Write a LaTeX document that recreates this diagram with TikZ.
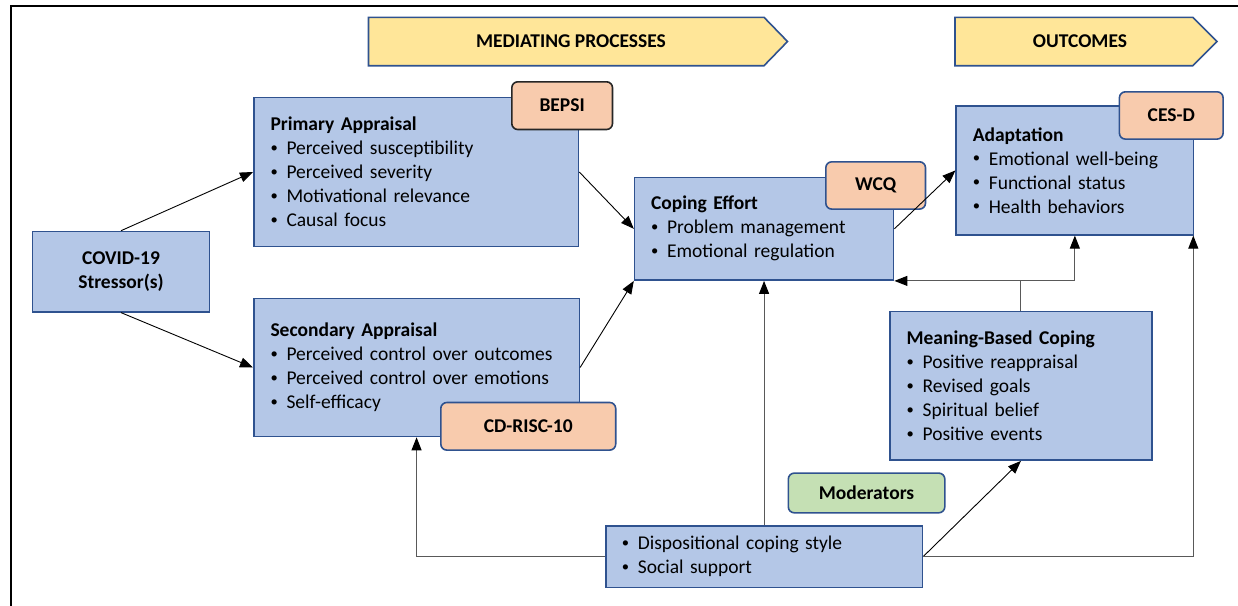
\documentclass[tikz,border=0pt]{standalone}
\usepackage{fontspec}
\setmainfont{Carlito}
\usetikzlibrary{arrows.meta}
\definecolor{boxfill}{HTML}{B4C7E7}
\definecolor{boxline}{HTML}{2F528F}
\definecolor{tagfill}{HTML}{F8CBAD}
\definecolor{modfill}{HTML}{C5E0B4}
\definecolor{banfill}{HTML}{FFE699}
\definecolor{elbowgray}{HTML}{595959}
\newcommand{\bul}{\makebox[16pt][l]{\raisebox{0.12em}{\scalebox{0.75}{\textbullet}}}}
\begin{document}
\begin{tikzpicture}[x=1pt,y=-1pt,
  every node/.style={font=\fontsize{19.5}{24}\selectfont},
  box/.style={draw=boxline, fill=boxfill, line width=1.6pt, inner sep=0pt, anchor=north west, align=left},
  tagbox/.style={draw=boxline, fill=tagfill, line width=1.6pt, rounded corners=6pt, inner sep=0pt,
    anchor=north west, font=\fontsize{19.5}{24}\selectfont\bfseries},
  modbox/.style={tagbox, fill=modfill},
  banner/.style={draw=boxline, fill=banfill, line width=1.6pt},
  conn/.style={line width=0.9pt, draw=black, -{Triangle[length=13pt,width=10pt,color=black]}},
  elbow/.style={line width=1.1pt, draw=elbowgray, -{Triangle[length=13pt,width=10pt,color=black]}}
]
\useasboundingbox (0,0) rectangle (1238,605);
\clip (0,0) rectangle (1238,605);
% outer frame
\draw[line width=2pt] (10.7,620) -- (10.7,5.7) -- (1250,5.7);

% banners
\draw[banner] (368.5,17.3) -- (764,17.3) -- (787.5,41.5) -- (764,65.7) -- (368.5,65.7) -- cycle;
\node[font=\fontsize{19.5}{24}\selectfont\bfseries] (mphead) at (571,41.5) {MEDIATING PROCESSES};
\draw[banner] (955,17.3) -- (1192.7,17.3) -- (1217,41.5) -- (1192.7,65.7) -- (955,65.7) -- cycle;
\node[font=\fontsize{19.5}{24}\selectfont\bfseries] (outhead) at (1080,41.5) {OUTCOMES};

% main boxes
\node[box, minimum width=177.2pt, minimum height=80.3pt, align=center,
  font=\fontsize{19.5}{24}\selectfont\bfseries] (covid) at (31.6,230.7) {COVID-19\\Stressor(s)};
\node[box, minimum width=324.7pt, minimum height=149pt, text width=291.3pt] (pa) at (253,96.7)
{\textbf{Primary Appraisal}\\
\bul Perceived susceptibility\\
\bul Perceived severity\\
\bul Motivational relevance\\
\bul Causal focus};
\node[box, minimum width=325.5pt, minimum height=138pt, text width=292.1pt] (sa) at (253,297.7)
{\textbf{Secondary Appraisal}\\
\bul Perceived control over outcomes\\
\bul Perceived control over emotions\\
\bul Self-efficacy};
\node[box, minimum width=259pt, minimum height=102.6pt, text width=226pt] (ce) at (633.8,176.7)
{\textbf{Coping Effort}\\
\bul Problem management\\
\bul Emotional regulation};
\node[box, minimum width=237.3pt, minimum height=128.7pt, text width=204.1pt] (ad) at (955.4,105.3)
{\textbf{Adaptation}\\
\bul Emotional well-being\\
\bul Functional status\\
\bul Health behaviors};
\node[box, minimum width=261.8pt, minimum height=148.6pt, text width=228.6pt] (mb) at (889.2,310.7)
{\textbf{Meaning-Based Coping}\\
\bul Positive reappraisal\\
\bul Revised goals\\
\bul Spiritual belief\\
\bul Positive events};
\node[box, minimum width=316.5pt, minimum height=61.7pt, text width=284.5pt] (ds) at (605,525)
{\bul Dispositional coping style\\
\bul Social support};

% tags
\node[tagbox, draw=black!85, minimum width=100.7pt, minimum height=47.7pt] (bepsi) at (511,81) {BEPSI};
\node[tagbox, minimum width=174.9pt, minimum height=47.6pt] (cdrisc) at (440,401.7) {CD-RISC-10};
\node[tagbox, minimum width=99.7pt, minimum height=47.3pt] (wcq) at (825,161) {WCQ};
\node[tagbox, minimum width=103.7pt, minimum height=47.3pt] (cesd) at (1118.6,91) {CES-D};
\node[modbox, minimum width=156.5pt, minimum height=39.7pt] (mod) at (787.5,472.3) {Moderators};

% connectors
\draw[conn] (covid.north) -- (pa.west);
\draw[conn] (covid.south) -- (sa.west);
\draw[conn] (pa.east) -- (ce.west);
\draw[conn] (sa.east) -- (ce.south west);
\draw[conn] (ce.east) -- (ad.west);
\draw[conn] (ds.east) -- (mb.south);
\draw[elbow] (ds.north) -- (ds.north |- ce.south);
\draw[elbow] (ds.west) -| (sa.south);
\draw[elbow] (ds.east) -| ([xshift=-1pt]ad.south east);
\draw[elbow] (mb.north) |- (ce.south east);
\draw[elbow] (mb.north |- ce.south) -| (ad.south);
\end{tikzpicture}
\end{document}
